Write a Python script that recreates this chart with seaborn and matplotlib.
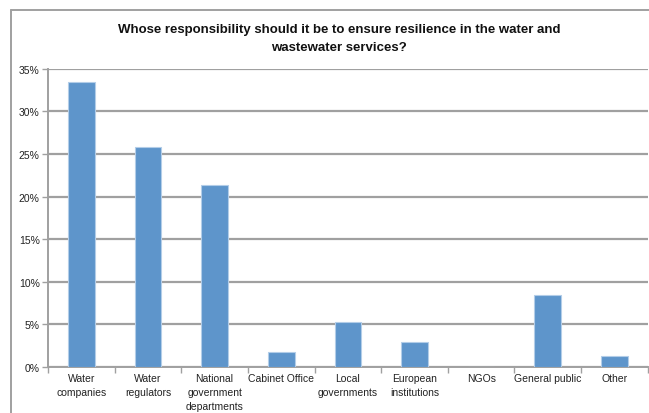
import matplotlib
matplotlib.use("Agg")
import matplotlib.pyplot as plt
from matplotlib.lines import Line2D
from matplotlib.ticker import FixedLocator, FuncFormatter
import seaborn as sns

categories = [
    "Water\ncompanies",
    "Water\nregulators",
    "National\ngovernment\ndepartments",
    "Cabinet Office",
    "Local\ngovernments",
    "European\ninstitutions",
    "NGOs",
    "General public",
    "Other",
]
shares = [33.5, 25.8, 21.4, 1.7, 5.3, 2.9, 0.0, 8.4, 1.2]
y_ticks = [0, 5, 10, 15, 20, 25, 30, 35]

title = ("Whose responsibility should it be to ensure resilience in the water and\n"
         "wastewater services?")

sns.set_theme(style="white")
plt.rcParams["font.family"] = ["Liberation Sans", "DejaVu Sans"]

grid_col = "#a0a0a0"
bar_col = "#5E95CB"

fig = plt.figure(figsize=(6.49, 4.14), dpi=100)
ax = fig.add_axes([0.074, 0.112, 0.924, 0.719])

sns.barplot(x=categories, y=shares, color=bar_col, saturation=1, width=0.4,
            edgecolor="#b3cde8", linewidth=0.8, ax=ax, zorder=3)

ax.set_ylim(0, 35)
ax.set_xlim(-0.5, len(categories) - 0.5)
ax.yaxis.set_major_locator(FixedLocator(y_ticks))
ax.yaxis.set_major_formatter(FuncFormatter(lambda v, _: f"{v:.0f}%"))
ax.yaxis.grid(True, color=grid_col, linewidth=1.6, zorder=0)
ax.set_axisbelow(True)

for side in ("top", "right"):
    ax.spines[side].set_visible(False)
for side in ("left", "bottom"):
    ax.spines[side].set_color(grid_col)
    ax.spines[side].set_linewidth(1.4)

ax.tick_params(axis="y", which="major", left=True, length=4, width=1,
               color=grid_col, labelsize=7.5, labelcolor="#222222", pad=2)
ax.tick_params(axis="x", which="major", bottom=False, length=0,
               labelsize=7.5, labelcolor="#222222", pad=4.5)
ax.xaxis.set_minor_locator(FixedLocator([i - 0.5 for i in range(len(categories) + 1)]))
ax.tick_params(axis="x", which="minor", bottom=True, length=4, width=1,
               color=grid_col)
for lbl in ax.get_xticklabels():
    lbl.set_linespacing(1.5)

fig.text(0.522, 0.906, title, ha="center", va="center", fontsize=9.5,
         fontweight="bold", color="#111111", linespacing=1.75)

# outer chart frame
fig.add_artist(Line2D([0.0177, 0.0177], [0.0, 0.973], transform=fig.transFigure,
                      color=grid_col, linewidth=1.4))
fig.add_artist(Line2D([0.0177, 1.0], [0.973, 0.973], transform=fig.transFigure,
                      color=grid_col, linewidth=1.4))

fig.savefig("out.png", dpi=100)
